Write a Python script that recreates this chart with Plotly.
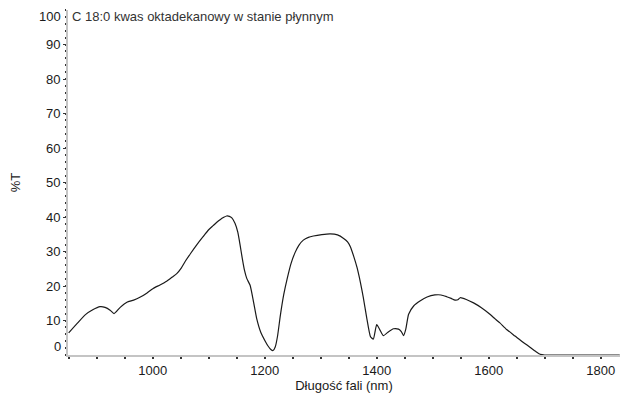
import plotly.graph_objects as go

# NIR transmission spectrum of liquid stearic acid (C 18:0)
wavelength_nm = [850, 866, 880, 893, 906, 915, 924, 931, 942, 954, 966, 978, 990, 1001,
                 1013, 1025, 1035, 1043, 1051, 1058, 1068, 1079, 1090, 1100, 1108, 1114,
                 1121, 1127, 1132, 1137, 1141, 1147, 1152, 1156, 1160, 1164, 1168, 1174,
                 1180, 1186, 1193, 1201, 1206, 1211, 1215, 1219, 1223, 1228, 1234, 1240,
                 1247, 1254, 1261, 1269, 1278, 1287, 1302, 1317, 1330, 1341, 1348, 1353,
                 1359, 1365, 1371, 1376, 1382, 1389, 1394, 1400, 1406, 1412, 1420, 1430,
                 1439, 1444, 1448, 1452, 1457, 1466, 1478, 1490, 1504, 1515, 1525, 1533,
                 1540, 1545, 1549, 1560, 1573, 1587, 1600, 1612, 1620, 1632, 1647, 1662,
                 1675, 1686, 1692, 1700, 1750, 1800, 1834]
transmittance = [6.4, 9.3, 11.7, 13.1, 14.0, 13.8, 13.0, 12.0, 13.8, 15.3, 15.9, 16.8, 18.0, 19.3,
                 20.3, 21.4, 22.6, 23.6, 25.2, 27.1, 29.5, 32.0, 34.3, 36.3, 37.5, 38.4,
                 39.3, 39.9, 40.3, 40.2, 39.8, 38.2, 35.6, 32.0, 28.0, 24.5, 22.2, 20.2,
                 15.5, 10.4, 6.6, 4.0, 2.6, 1.6, 1.3, 2.4, 5.5, 11.5, 17.5, 22.0,
                 26.5, 29.6, 31.8, 33.3, 34.1, 34.5, 34.9, 35.1, 34.8, 33.8, 32.8, 31.4,
                 28.6, 25.3, 21.0, 16.8, 11.0, 5.3, 4.6, 8.8, 7.2, 5.6, 6.6, 7.6,
                 7.5, 6.8, 5.6, 7.5, 11.8, 14.2, 15.7, 16.8, 17.4, 17.4, 16.9, 16.4,
                 15.9, 16.0, 16.6, 16.1, 15.1, 13.7, 12.1, 10.4, 9.3, 7.4, 5.5, 3.6,
                 2.1, 0.8, 0.2, 0.0, 0.0, 0.0, 0.0]

x_ticks = [1000, 1200, 1400, 1600, 1800]
y_ticks = [10, 20, 30, 40, 50, 60, 70, 80, 90]
y_end_labels = [(0, "0", 9), (100, "100", -6)]

title_text = "C 18:0 kwas oktadekanowy w stanie płynnym"
x_title = "Długość fali (nm)"
y_title = "%T"

FONT = "Liberation Sans, Arial, sans-serif"
FS = 13
AXIS_GRAY = "#c4c4c4"
TICK_DARK = "#333333"
TEXT = "#1a1a1a"

fig = go.Figure()
fig.add_trace(go.Scatter(
    x=wavelength_nm, y=transmittance, mode="lines",
    line=dict(color="#1a1a1a", width=1.2, shape="spline", smoothing=0.5),
    hoverinfo="skip", showlegend=False, cliponaxis=True,
))

fig.update_layout(
    width=620, height=393,
    margin=dict(l=68, r=0, t=10, b=38),
    paper_bgcolor="white", plot_bgcolor="white",
    font=dict(family=FONT, size=FS, color=TEXT),
    showlegend=False,
)

fig.update_xaxes(
    range=[848.8, 1834.5], showgrid=False, zeroline=False,
    showline=True, linecolor=AXIS_GRAY, linewidth=2,
    tickmode="array", tickvals=x_ticks, ticktext=[str(v) for v in x_ticks],
    ticks="outside", ticklen=2, tickwidth=1.5, tickcolor=TICK_DARK,
    minor=dict(dtick=50, tick0=1000, ticks="outside", ticklen=2, tickwidth=1.5,
               tickcolor=TICK_DARK, showgrid=False),
    tickfont=dict(size=FS, color=TEXT),
    title=dict(text=x_title, font=dict(size=FS, color=TEXT), standoff=4),
)

fig.update_yaxes(
    range=[0, 100], showgrid=False, zeroline=False,
    showline=True, linecolor=AXIS_GRAY, linewidth=2,
    tickmode="array", tickvals=y_ticks, ticktext=[str(v) for v in y_ticks],
    ticks="outside", ticklen=3, tickwidth=1.2, tickcolor=TICK_DARK,
    minor=dict(dtick=2, tick0=0, ticks="outside", ticklen=1, tickwidth=1.5,
               tickcolor=TICK_DARK, showgrid=False),
    tickfont=dict(size=FS, color=TEXT),
    title=dict(text=y_title, font=dict(size=FS, color=TEXT), standoff=22),
)

# end labels of the y scale sit just inside the axis range
for val, txt, shift in y_end_labels:
    fig.add_annotation(
        xref="paper", x=0, xanchor="right", xshift=-5,
        yref="y", y=val, yshift=shift, yanchor="middle",
        text=txt, showarrow=False, font=dict(size=FS, color=TEXT),
    )

fig.add_annotation(
    xref="paper", x=0, xanchor="left", xshift=2,
    yref="y", y=100, yshift=-6, yanchor="middle",
    text=title_text, showarrow=False, font=dict(size=FS, color="#333333"),
)

fig.write_html("out.html")
